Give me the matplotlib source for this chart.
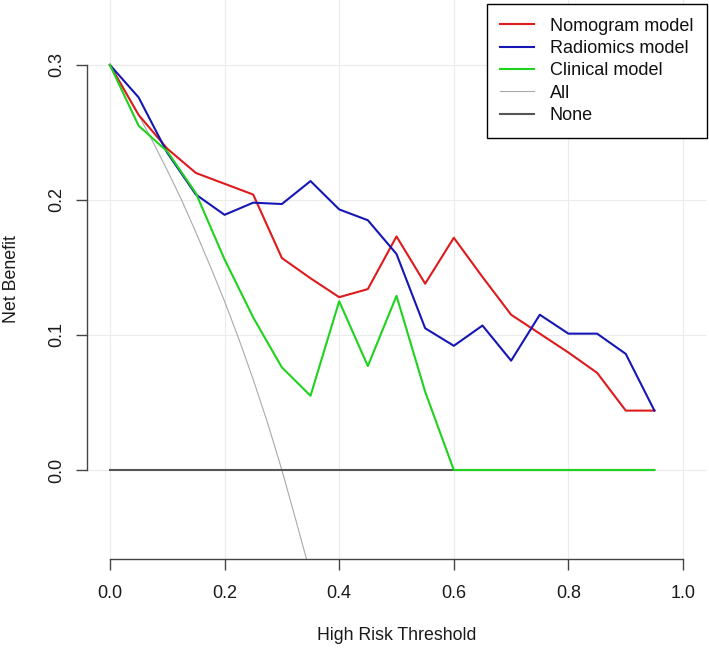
import matplotlib.pyplot as plt

plt.rcParams['font.family'] = ['Liberation Sans', 'DejaVu Sans']

# thresholds for the model curves
thresholds = [0.0, 0.05, 0.10, 0.15, 0.20, 0.25, 0.30, 0.35, 0.40, 0.45,
              0.50, 0.55, 0.60, 0.65, 0.70, 0.75, 0.80, 0.85, 0.90, 0.95]

nomogram = [0.300, 0.263, 0.238, 0.220, 0.212, 0.204, 0.157, 0.142, 0.128, 0.134,
            0.173, 0.138, 0.172, 0.143, 0.115, 0.101, 0.087, 0.072, 0.044, 0.044]
radiomics = [0.300, 0.276, 0.235, 0.204, 0.189, 0.198, 0.197, 0.214, 0.193, 0.185,
             0.160, 0.105, 0.092, 0.107, 0.081, 0.115, 0.101, 0.101, 0.086, 0.044]
clinical = [0.300, 0.255, 0.236, 0.205, 0.156, 0.113, 0.076, 0.055, 0.125, 0.077,
            0.129, 0.058, 0.000, 0.000, 0.000, 0.000, 0.000, 0.000, 0.000, 0.000]

all_x = [0.0, 0.025, 0.05, 0.075, 0.10, 0.125, 0.15, 0.175, 0.20, 0.225,
         0.25, 0.275, 0.30, 0.325, 0.35]
all_y = [0.300, 0.282, 0.263, 0.243, 0.222, 0.200, 0.176, 0.151, 0.125, 0.097,
         0.067, 0.035, 0.000, -0.038, -0.077]

none_x = [0.0, 0.95]
none_y = [0.0, 0.0]

fig = plt.figure(figsize=(7.09, 6.49), dpi=100)
W, H = 709, 649
# plot region in pixels: left 87, right 706, top 0, bottom 559
ax = fig.add_axes([87 / W, (H - 559) / H, (706 - 87) / W, 559 / H])
ax.set_xlim(-0.04, 1.04)
ax.set_ylim(-0.0659, 0.3481)

for v in [0, 0.2, 0.4, 0.6, 0.8, 1.0]:
    ax.axvline(v, color='#ebebeb', lw=0.8, zorder=0)
for v in [0, 0.1, 0.2, 0.3]:
    ax.axhline(v, color='#ebebeb', lw=0.8, zorder=0)

l4, = ax.plot(all_x, all_y, color='#a9a9a9', lw=0.8, label='All')
l5, = ax.plot(none_x, none_y, color='#555555', lw=1.5, label='None')
l1, = ax.plot(thresholds, nomogram, color='#dd1a1c', lw=1.5, label='Nomogram model')
l2, = ax.plot(thresholds, radiomics, color='#1616b4', lw=1.5, label='Radiomics model')
l3, = ax.plot(thresholds, clinical, color='#1ed21e', lw=1.5, label='Clinical model')

for s in ['top', 'right']:
    ax.spines[s].set_visible(False)
ax.spines['left'].set_bounds(0, 0.3)
ax.spines['bottom'].set_bounds(0, 1.0)
for s in ['left', 'bottom']:
    ax.spines[s].set_color('#444444')
    ax.spines[s].set_linewidth(1.0)

ax.set_xticks([0, 0.2, 0.4, 0.6, 0.8, 1.0])
ax.set_xticklabels(['0.0', '0.2', '0.4', '0.6', '0.8', '1.0'])
ax.set_yticks([0, 0.1, 0.2, 0.3])
ax.set_yticklabels(['0.0', '0.1', '0.2', '0.3'], rotation=90, va='center')
ax.tick_params(direction='out', length=8, width=1.0, color='#444444',
               labelsize=13, labelcolor='#1a1a1a')
ax.tick_params(axis='x', pad=11)
ax.tick_params(axis='y', pad=8)

fig.text(396.5 / W, 1 - 636 / H, 'High Risk Threshold', ha='center', va='center',
         fontsize=12.8, color='#1a1a1a')
fig.text(12 / W, 1 - 279.5 / H, 'Net Benefit', ha='center', va='center',
         rotation=90, fontsize=12.8, color='#1a1a1a')

handles = [l1, l2, l3, l4, l5]
leg = ax.legend(handles, [h.get_label() for h in handles],
                loc='upper right', bbox_to_anchor=(707 / W, 1 - 4 / H),
                bbox_transform=fig.transFigure, borderaxespad=0,
                fancybox=False, framealpha=1, edgecolor='black',
                fontsize=13, handlelength=1.85, handletextpad=0.9,
                labelspacing=0.3, borderpad=0.75)
leg.get_frame().set_linewidth(1.0)
for t in leg.get_texts():
    t.set_color('#111111')

fig.savefig('out.png', dpi=100)
